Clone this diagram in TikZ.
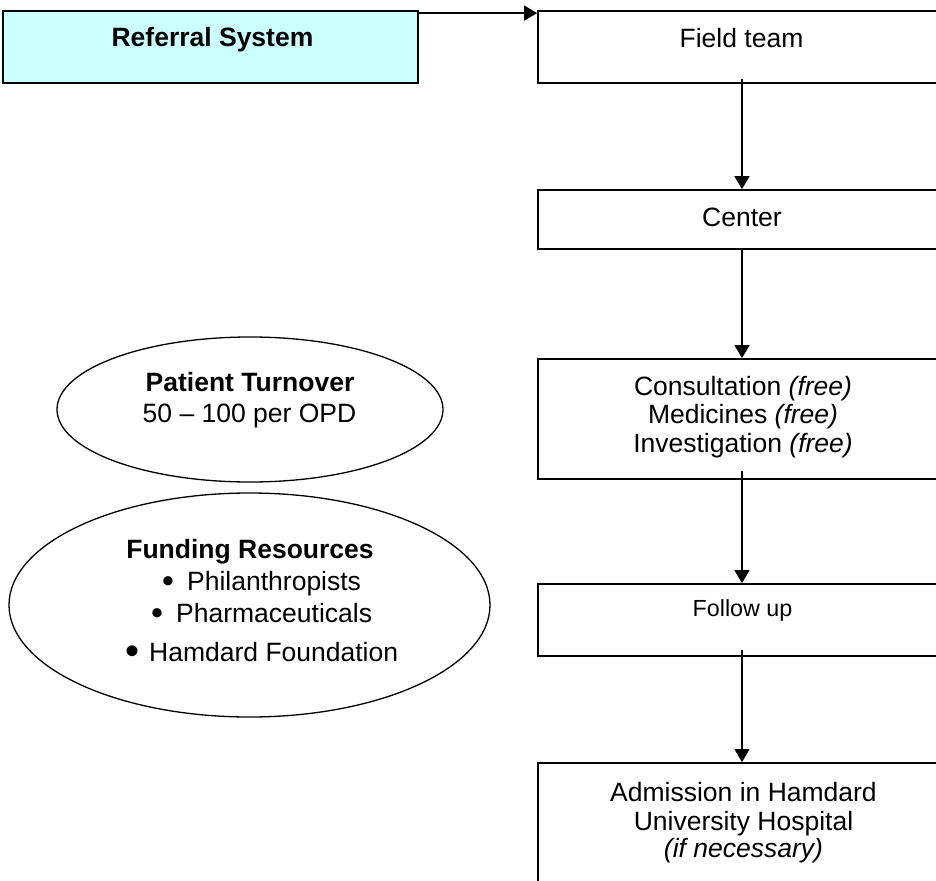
\documentclass[tikz,border=0pt]{standalone}
\usepackage{fontspec}
\setmainfont{Liberation Sans}
\usetikzlibrary{shapes.geometric,arrows.meta}
\definecolor{refcyan}{RGB}{204,255,255}
\begin{document}
\begin{tikzpicture}[x=1pt,y=-1pt,
  box/.style={draw,line width=1.8pt,rectangle,inner sep=0pt},
  oval/.style={draw,line width=1.3pt,ellipse,inner sep=0pt},
  txt/.style={inner sep=0pt,anchor=base,font=\fontsize{26.5}{28.5}\selectfont},
  txtl/.style={inner sep=0pt,anchor=base west,font=\fontsize{26.5}{28.5}\selectfont},
  bul/.style={inner sep=0pt,anchor=base,font=\fontsize{34}{34}\selectfont},
  arr/.style={line width=1.5pt,-{Triangle[width=15pt,length=13pt]}}]
\useasboundingbox (0,0) rectangle (936,880);
\clip (0,0) rectangle (936,880);
% boxes
\node[box,fill=refcyan,minimum width=415pt,minimum height=72pt] (ref) at (210.5,47) {};
\node[box,minimum width=408pt,minimum height=72pt] (ft) at (742,47) {};
\node[box,minimum width=408pt,minimum height=59pt] (ce) at (742,219.5) {};
\node[box,minimum width=408pt,minimum height=120pt] (co) at (742,419) {};
\node[box,minimum width=408pt,minimum height=72pt] (fu) at (742,620) {};
\node[box,minimum width=408pt,minimum height=140pt] (ad) at (742,833) {};
% ellipses
\node[oval,minimum width=386pt,minimum height=145pt] (pt) at (250,409.5) {};
\node[oval,minimum width=481pt,minimum height=224pt] (fr) at (249.5,605) {};
% texts
\node[txt,font=\fontsize{26.5}{28.5}\selectfont\bfseries] (reft) at (212.5,46.5) {Referral System};
\node[txt] (ftt) at (741.5,47.5) {Field team};
\node[txt] (cet) at (742,226.5) {Center};
\node[txt] (co1) at (743,395) {Consultation \textit{(free)}};
\node[txt] (co2) at (743,423.5) {Medicines \textit{(free)}};
\node[txt] (co3) at (743,452) {Investigation \textit{(free)}};
\node[txt,font=\fontsize{23.3}{26}\selectfont] (fut) at (742.5,616.5) {Follow up};
\node[txt] (ad1) at (743.5,801.7) {Admission in Hamdard};
\node[txt] (ad2) at (743.5,830) {University Hospital};
\node[txt] (ad3) at (743.5,857) {\textit{(if necessary)}};
\node[txt,font=\fontsize{26.5}{28.5}\selectfont\bfseries] (pt1) at (250,391.7) {Patient Turnover};
\node[txt] (pt2) at (249.5,422.7) {50 – 100 per OPD};
\node[txt,font=\fontsize{26.5}{28.5}\selectfont\bfseries] (fr1) at (250,558.3) {Funding Resources};
\node[bul] (b1) at (168,592) {•};
\node[txtl] (fr2) at (187,590) {Philanthropists};
\node[bul] (b2) at (157,624.7) {•};
\node[txtl] (fr3) at (176,622.7) {Pharmaceuticals};
\node[bul,font=\fontsize{40}{40}\selectfont] (b3) at (132,664) {•};
\node[txtl] (fr4) at (149,661) {Hamdard Foundation};
% arrows
\draw[arr] ([yshift=-3pt]ref.north east) -- ([yshift=-3pt]ft.north west);
\draw[arr] ([yshift=5pt]ft.south) -- (ce.north);
\draw[arr] ([yshift=2pt]ce.south) -- (co.north);
\draw[arr] ([yshift=9pt]co.south) -- (fu.north);
\draw[arr] ([yshift=7pt]fu.south) -- (ad.north);
\end{tikzpicture}
\end{document}
